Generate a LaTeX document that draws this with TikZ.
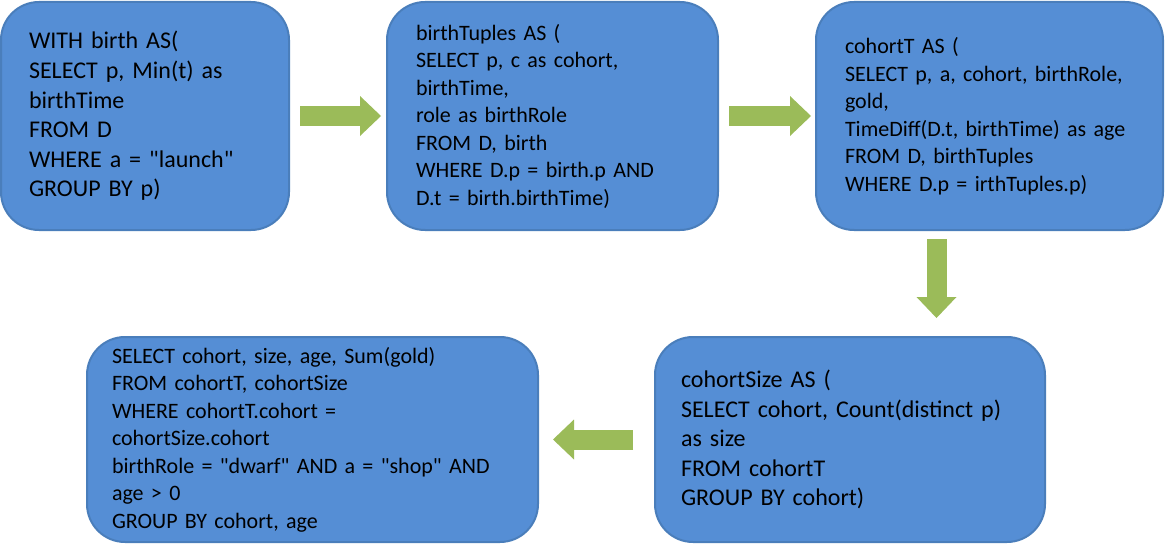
\documentclass[tikz,border=0pt]{standalone}
\usepackage{fontspec}
\setmainfont{Carlito}[Ligatures=TeXOff]
\usetikzlibrary{positioning,arrows.meta}
\definecolor{boxfill}{HTML}{558ED5}
\definecolor{boxline}{HTML}{4A7EBB}
\definecolor{flowgreen}{HTML}{9BBB59}
\tikzset{
  query/.style={rectangle, rounded corners=38pt, draw=boxline, fill=boxfill, line width=2pt,
    outer sep=0pt, inner xsep=28pt, inner ysep=0pt, align=left, text=black},
  bigtext/.style={font=\fontsize{24pt}{29.6pt}\selectfont},
  smalltext/.style={font=\fontsize{22pt}{27.5pt}\selectfont},
  flow/.style={draw=flowgreen, line width=20pt, -{Triangle[width=40pt,length=21pt,line width=0pt]}}
}
\begin{document}
\begin{tikzpicture}[x=1pt, y=-1pt]
    \useasboundingbox (0,0) rectangle (1165,551);

    % Query steps
    \node (birth) [query, bigtext, minimum width=288pt, minimum height=228pt, text width=232pt] at (145,116)
        {WITH birth AS(\\SELECT p, Min(t) as\\birthTime\\FROM D\\WHERE a = "launch"\\GROUP BY p)};
    \node (tuples) [query, smalltext, minimum width=331pt, minimum height=228pt, text width=273pt, inner xsep=29pt, right=98pt of birth]
        {birthTuples AS (\\SELECT p, c as cohort,\\birthTime,\\role as birthRole\\FROM D, birth\\WHERE D.p = birth.p AND\\D.t = birth.birthTime)};
    \node (cohortT) [query, smalltext, minimum width=347pt, minimum height=228pt, text width=289pt, inner xsep=29pt, right=98pt of tuples]
        {cohortT AS (\\SELECT p, a, cohort, birthRole,\\gold,\\TimeDiff(D.t, birthTime) as age\\FROM D, birthTuples\\WHERE D.p = irthTuples.p)};
    \node (size) [query, bigtext, minimum width=390pt, minimum height=205pt, text width=338pt, inner xsep=26pt] at (850,439.5)
        {cohortSize AS (\\SELECT cohort, Count(distinct p)\\as size\\FROM cohortT\\GROUP BY cohort)};
    \node (final) [query, smalltext, minimum width=451pt, minimum height=205pt, text width=401pt, inner xsep=25pt, left=117pt of size]
        {SELECT cohort, size, age, Sum(gold)\\FROM cohortT, cohortSize\\WHERE cohortT.cohort =\\cohortSize.cohort\\birthRole = "dwarf" AND a = "shop" AND\\age > 0\\GROUP BY cohort, age};

    % Arrows
    \coordinate (drop) at (936.5,0);
    \draw [flow, shorten <=11pt, shorten >=6pt] (birth.east) -- (tuples.west);
    \draw [flow, shorten <=11pt, shorten >=5pt] (tuples.east) -- (cohortT.west);
    \draw [flow, shorten <=9pt, shorten >=19pt] (cohortT.south -| drop) -- (size.north -| drop);
    \draw [flow, shorten <=22pt, shorten >=15pt] (size.west) -- (final.east);
\end{tikzpicture}
\end{document}
